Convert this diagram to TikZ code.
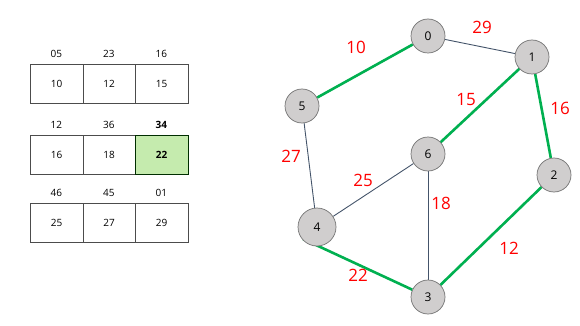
\documentclass[tikz,border=0pt]{standalone}
\usepackage{fontspec}
\setmainfont{Open Sans}
\usetikzlibrary{backgrounds}
\definecolor{mstgreen}{HTML}{00B050}
\definecolor{slateedge}{HTML}{44546A}
\definecolor{nodegray}{HTML}{D0CECE}
\definecolor{cellgreen}{HTML}{C5EBAE}
\definecolor{wred}{HTML}{FF0000}
\begin{document}
\begin{tikzpicture}[x=1pt,y=-1pt,
  vert/.style={circle,draw=black!55,fill=nodegray,line width=0.7pt,minimum size=34pt,inner sep=0pt,font=\fontsize{12}{14}\selectfont},
  bigvert/.style={vert,minimum size=38pt},
  mst/.style={draw=mstgreen,line width=2.6pt},
  plain/.style={draw=slateedge,line width=0.9pt},
  wlab/.style={text=wred,font=\fontsize{17}{20}\selectfont,inner sep=0pt},
  cell/.style={draw=black!70,line width=0.7pt,minimum width=52.5pt,minimum height=39pt,inner sep=0pt,anchor=north west,font=\fontsize{10}{12}\selectfont},
  toplab/.style={font=\fontsize{10}{12}\selectfont,inner sep=0pt}]
\useasboundingbox (0,0) rectangle (580,326);
% tables
\foreach \r/\y/\a/\b/\c/\ta/\tb/\tc in {1/64/10/12/15/05/23/16, 3/203/25/27/29/46/45/01}{
  \node[cell] (t\r a) at (30,\y) {\a};
  \node[cell] (t\r b) at (82.5,\y) {\b};
  \node[cell] (t\r c) at (135,\y) {\c};
  \node[toplab] (l\r a) at (56.25,\y-10) {\ta};
  \node[toplab] (l\r b) at (108.75,\y-10) {\tb};
  \node[toplab] (l\r c) at (161.25,\y-10) {\tc};
}
\node[cell] (t2a) at (30,135) {16};
\node[cell] (t2b) at (82.5,135) {18};
\node[cell,fill=cellgreen,draw=black!55!green!40!black,font=\fontsize{10}{12}\selectfont\bfseries] (t2c) at (135,135) {22};
\node[toplab] (l2a) at (56.25,125) {12};
\node[toplab] (l2b) at (108.75,125) {36};
\node[toplab,font=\fontsize{10}{12}\selectfont\bfseries] (l2c) at (161.25,125) {34};
% graph vertices
\node[vert] (v0) at (428,36) {0};
\node[vert] (v1) at (532,57) {1};
\node[vert] (v5) at (302,106) {5};
\node[vert] (v6) at (428,154) {6};
\node[vert] (v2) at (554,175) {2};
\node[bigvert] (v4) at (317,227) {4};
\node[vert] (v3) at (428,297) {3};
\coordinate (c4) at (303,239);
% edges
\begin{scope}[on background layer]
\draw[plain] (v0) -- (v1);
\draw[plain] (v5) -- (v4);
\draw[plain] (v4) -- (v6);
\draw[plain] (v6) -- (v3);
\draw[mst] (v0) -- (v5);
\draw[mst] (v1) -- (v6);
\draw[mst] (v1) -- (v2);
\draw[mst] (v2) -- (v3);
\draw[mst] (c4) -- (v3);
\end{scope}
% weights
\node[wlab] (w05) at (356,47) {10};
\node[wlab] (w01) at (482,27) {29};
\node[wlab] (w16) at (466,100) {15};
\node[wlab] (w12) at (560,108) {16};
\node[wlab] (w54) at (291,156) {27};
\node[wlab] (w46) at (363,180) {25};
\node[wlab] (w63) at (441,203) {18};
\node[wlab] (w34) at (358,275) {22};
\node[wlab] (w23) at (509,248) {12};
\end{tikzpicture}
\end{document}
